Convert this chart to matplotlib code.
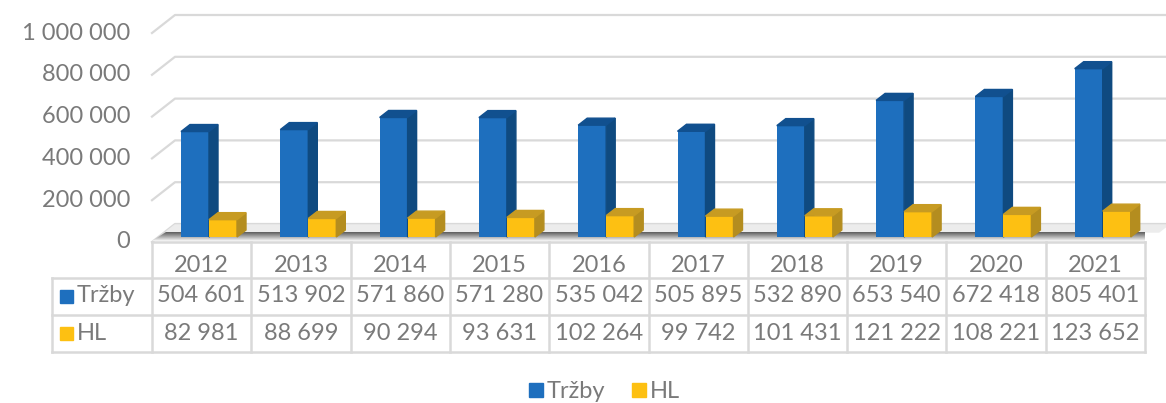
import matplotlib.pyplot as plt
from matplotlib.patches import Polygon, Rectangle
from matplotlib.lines import Line2D
import numpy as np

# data
years = ['2012', '2013', '2014', '2015', '2016', '2017', '2018', '2019', '2020', '2021']
trzby = [504601, 513902, 571860, 571280, 535042, 505895, 532890, 653540, 672418, 805401]
hl = [82981, 88699, 90294, 93631, 102264, 99742, 101431, 121222, 108221, 123652]
ticks = [0, 200000, 400000, 600000, 800000, 1000000]
series = ['Tržby', 'HL']

# colours: front, side, top
blue = ('#1e6fbe', '#0f4a80', '#11508f')
gold = ('#fdc012', '#b48d1f', '#c79b22')
grid_c = '#d9d9d9'
txt_c = '#7a7a7a'
FS = 17
plt.rcParams['font.family'] = ['Lato', 'DejaVu Sans']

W, H = 1166, 403
fig = plt.figure(figsize=(W / 100, H / 100), dpi=100)
PX = 1e6 / 209   # value units per pixel
CW = 99.3        # column width in pixels


def ux(p):
    return p / CW


def fx(p):
    return p / W


def fy(p):
    return 1 - p / H


def fmt(v):
    return f'{v:,}'.replace(',', ' ')


ax = fig.add_axes([fx(152), fy(245), 993 / W, 245 / H])
ax.axis('off')

# back wall gridlines + labels
for v in ticks:
    ax.plot([0, ux(23), ux(1166 - 152)], [v - 5 * PX, v + 13 * PX, v + 13 * PX],
            color=grid_c, lw=1.6, clip_on=False, zorder=1)
    ax.text(ux(-22), v - 5 * PX, fmt(v), ha='right', va='center',
            fontsize=FS, color=txt_c, clip_on=False)

# floor
top_face = Polygon([(ux(14), 5 * PX), (ux(1007), 5 * PX), (ux(1016), 12 * PX), (ux(23), 12 * PX)],
                   closed=True, color='#ececec', zorder=2, clip_on=False)
ax.add_patch(top_face)
band = Polygon([(0, -4 * PX), (10, -4 * PX), (ux(1007), 5 * PX), (ux(14), 5 * PX)],
               closed=True, facecolor='none', edgecolor='none', zorder=2, clip_on=False)
ax.add_patch(band)
grad = np.linspace(0, 1, 50).reshape(-1, 1)
im = ax.imshow(grad, extent=(0, ux(1007), -4 * PX, 5 * PX), aspect='auto',
               cmap='gray', vmin=-0.6, vmax=1.05, origin='upper', zorder=2)
im.set_clip_path(band)
ax.set_xlim(0, 10)
ax.set_ylim(-8 * PX, 237 * PX)

# 3d bars
dx, dy = ux(9), 7 * PX
w = ux(28)
for i in range(len(years)):
    for s, (vals, col) in enumerate([(trzby, blue), (hl, gold)]):
        v = vals[i]
        x0 = i + ux(29 + 28 * s)
        z = 3 + i * 2 + s
        ax.bar(x0, v, width=w, align='edge', color=col[0], zorder=z)
        ax.add_patch(Polygon([(x0 + w, 0), (x0 + w + dx, dy), (x0 + w + dx, v + dy), (x0 + w, v)],
                             closed=True, color=col[1], zorder=z))
        ax.add_patch(Polygon([(x0, v), (x0 + w, v), (x0 + w + dx, v + dy), (x0 + dx, v + dy)],
                             closed=True, color=col[2], zorder=z))

# data table
tl = dict(color=grid_c, lw=1.8, transform=fig.transFigure)
x_edges = [152 + k * CW for k in range(len(years) + 1)]
fig.add_artist(Line2D([fx(152), fx(x_edges[-1])], [fy(242), fy(242)], **tl))
for yy in [278, 315, 352]:
    fig.add_artist(Line2D([fx(52), fx(x_edges[-1])], [fy(yy), fy(yy)], **tl))
for xx in x_edges:
    fig.add_artist(Line2D([fx(xx), fx(xx)], [fy(242), fy(352)], **tl))
fig.add_artist(Line2D([fx(52), fx(52)], [fy(278), fy(352)], **tl))

for k, yr in enumerate(years):
    xc = fx(152 + (k + 0.5) * CW)
    fig.text(xc, fy(265), yr, ha='center', va='center', fontsize=FS, color=txt_c)
    fig.text(xc, fy(296), fmt(trzby[k]), ha='center', va='center', fontsize=FS, color=txt_c)
    fig.text(xc, fy(333), fmt(hl[k]), ha='center', va='center', fontsize=FS, color=txt_c)

for name, col, yc in [(series[0], blue, 296), (series[1], gold, 333)]:
    fig.add_artist(Rectangle((fx(60), fy(yc + 7)), 13 / W, 13 / H, color=col[0],
                             transform=fig.transFigure))
    fig.text(fx(77), fy(yc), name, ha='left', va='center', fontsize=FS, color=txt_c)

# legend
for name, col, xl in [(series[0], blue, 529), (series[1], gold, 632)]:
    fig.add_artist(Rectangle((fx(xl), fy(397)), 14 / W, 14 / H, color=col[0],
                             transform=fig.transFigure))
    fig.text(fx(xl + 18), fy(391), name, ha='left', va='center', fontsize=FS, color=txt_c)

fig.savefig('out.png', dpi=100)
